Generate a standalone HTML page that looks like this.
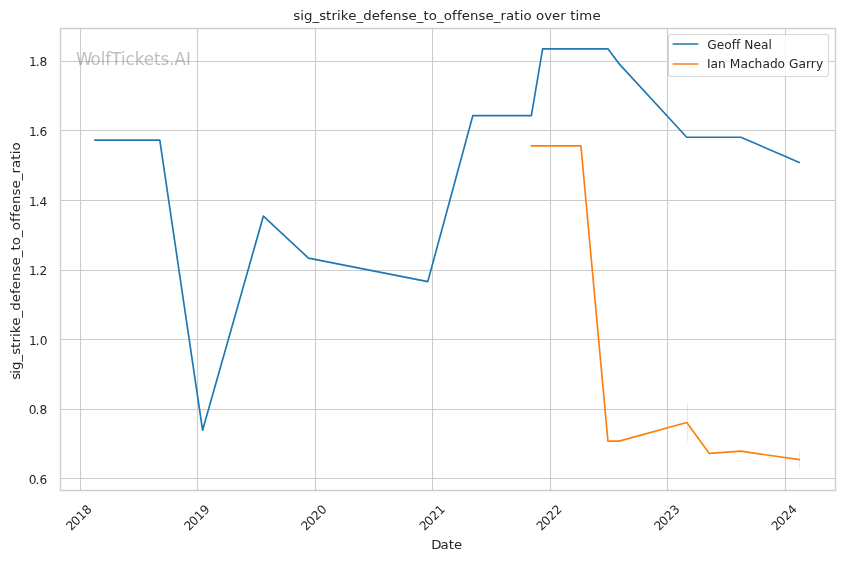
<!DOCTYPE html>
<html lang="en">
<head>
<meta charset="utf-8">
<title>sig_strike_defense_to_offense_ratio over time</title>
<style>
html,body{margin:0;padding:0;background:#ffffff;}
body{width:844px;height:561px;overflow:hidden;}
svg{display:block;}
text{font-family:"DejaVu Sans","Liberation Sans",sans-serif;fill:#262626;font-kerning:none;}
.tick{font-size:12.22px;}
.lbl{font-size:13.33px;}
.grid line{stroke:#cccccc;stroke-width:1.11;}
.spine{fill:none;stroke:#cccccc;stroke-width:1.39;stroke-linecap:square;}
.ln{fill:none;stroke-width:1.67;stroke-linejoin:round;stroke-linecap:round;}
</style>
</head>
<body>
<svg width="844" height="561" viewBox="0 0 844 561">
<rect x="0" y="0" width="844" height="561" fill="#ffffff"/>
<g class="grid">
<line x1="80.5" y1="28.5" x2="80.5" y2="490.5"/>
<line x1="197.5" y1="28.5" x2="197.5" y2="490.5"/>
<line x1="315.5" y1="28.5" x2="315.5" y2="490.5"/>
<line x1="432.5" y1="28.5" x2="432.5" y2="490.5"/>
<line x1="550.5" y1="28.5" x2="550.5" y2="490.5"/>
<line x1="667.5" y1="28.5" x2="667.5" y2="490.5"/>
<line x1="785.5" y1="28.5" x2="785.5" y2="490.5"/>
<line x1="60.5" y1="61.5" x2="835.5" y2="61.5"/>
<line x1="60.5" y1="130.5" x2="835.5" y2="130.5"/>
<line x1="60.5" y1="200.5" x2="835.5" y2="200.5"/>
<line x1="60.5" y1="270.5" x2="835.5" y2="270.5"/>
<line x1="60.5" y1="339.5" x2="835.5" y2="339.5"/>
<line x1="60.5" y1="409.5" x2="835.5" y2="409.5"/>
<line x1="60.5" y1="478.5" x2="835.5" y2="478.5"/>
</g>
<line x1="687.5" y1="403.5" x2="687.5" y2="441.5" stroke="#ff7f0e" stroke-opacity="0.2" stroke-width="1"/>
<line x1="799.5" y1="451.5" x2="799.5" y2="469.5" stroke="#ff7f0e" stroke-opacity="0.2" stroke-width="1"/>
<polyline class="ln" stroke="#1f77b4" points="94.81,140.2 159.8,140.2 202.58,430.2 263.39,216.05 308.43,258.1 427.78,281.6 472.82,115.7 531.37,115.7 542.63,48.8 607.94,48.8 619.2,63.9 686.76,137.25 740.81,137.25 799.36,162.4"/>
<polyline class="ln" stroke="#ff7f0e" points="531.37,145.8 580.92,145.8 607.94,441.15 619.2,441.15 686.76,422.5 709.28,453.4 740.81,451.2 799.36,459.7"/>
<rect class="spine" x="60.5" y="28.5" width="775.0" height="462.0"/>
<text transform="translate(76.02,65) scale(1,1.07)" x="0 14.5 24.62 29.25 35.12 44.88 49.5 58.62 67.75 78 84.5 93.25 98.5 109.88" y="0" font-size="16.67px" style="fill:#808080;fill-opacity:0.5">WolfTickets.AI</text>
<text class="tick" transform="translate(28.96,66)" x="0 6.75 10.62" y="0">1.8</text>
<text class="tick" transform="translate(28.93,136)" x="0 6.75 10.62" y="0">1.6</text>
<text class="tick" transform="translate(29.01,206)" x="0 6.75 10.62" y="0">1.4</text>
<text class="tick" transform="translate(28.90,275)" x="0 6.75 10.62" y="0">1.2</text>
<text class="tick" transform="translate(29.06,345)" x="0 6.75 10.62" y="0">1.0</text>
<text class="tick" transform="translate(28.84,414)" x="0 6.75 10.62" y="0">0.8</text>
<text class="tick" transform="translate(28.83,484)" x="0 6.75 10.62" y="0">0.6</text>
<text class="tick" transform="translate(79.58,516.75) rotate(-45) translate(-16.16,4.45)" x="0 6.75 14.5 22.25" y="0">2018</text>
<text class="tick" transform="translate(197.50,516.75) rotate(-45) translate(-16.10,4.45)" x="0 6.75 14.5 22.25" y="0">2019</text>
<text class="tick" transform="translate(314.60,516.76) rotate(-45) translate(-16.10,4.45)" x="0 6.75 14.5 22.25" y="0">2020</text>
<text class="tick" transform="translate(432.65,516.65) rotate(-45) translate(-16.10,4.45)" x="0 6.75 14.5 22.25" y="0">2021</text>
<text class="tick" transform="translate(549.66,516.79) rotate(-45) translate(-16.10,4.45)" x="0 6.75 14.5 22.25" y="0">2022</text>
<text class="tick" transform="translate(667.44,516.81) rotate(-45) translate(-16.10,4.45)" x="0 6.75 14.5 22.25" y="0">2023</text>
<text class="tick" transform="translate(784.67,516.75) rotate(-45) translate(-16.10,4.45)" x="0 6.75 14.5 22.25" y="0">2024</text>
<text class="lbl" transform="translate(431.14,549) scale(1,0.95)" x="0 9.25 17.5 22.88" y="0">Date</text>
<text class="lbl" transform="translate(19.8,379.69) rotate(-90) scale(1,0.97)" x="0 5.88 9.62 18.12 24.88 31.75 37.12 42.75 46.5 53.88 62.12 68.88 77.38 85.62 90.5 98.75 107.25 114.12 122.38 129.12 134.5 142.75 149.5 157.75 162.62 167.5 175.75 184.25 191.12 199.38 206.12 211.75 220 225.38 229.12" y="0">sig_strike_defense_to_offense_ratio</text>
<text class="lbl" transform="translate(293.29,19.9) scale(1,0.985)" x="0 6.88 10.62 19.12 25.88 32.75 38.12 43.75 47.5 54.88 63.12 69.88 78.38 86.62 91.5 99.75 108.25 115.12 123.38 130.12 135.5 143.75 150.5 158.75 163.62 168.5 176.75 185.25 192.12 200.38 207.12 212.75 221 226.38 230.12 238.38 242.62 250.88 258.75 267 272.62 276.88 282.25 286 299.12" y="0">sig_strike_defense_to_offense_ratio over time</text>
<rect x="668.5" y="34.5" width="160" height="42" rx="2.4" ry="2.4" fill="#ffffff" fill-opacity="0.8" stroke="#cccccc" stroke-opacity="0.8" stroke-width="1.11"/>
<line class="ln" stroke="#1f77b4" x1="673.24" y1="44" x2="697.76" y2="44"/>
<line class="ln" stroke="#ff7f0e" x1="673.24" y1="64" x2="697.76" y2="64"/>
<text class="tick" transform="translate(707.32,49)" x="0 9.38 16.88 24.38 28.75 33.12 37 46.25 53.75 61.25" y="0">Geoff Neal</text>
<text class="tick" transform="translate(707.01,68)" x="0 3.62 11.12 18.88 22.75 33.38 40.88 47.62 55.38 62.88 70.62 78.12 82 91.38 98.88 103.75 108.88" y="0">Ian Machado Garry</text>
</svg>
</body>
</html>
